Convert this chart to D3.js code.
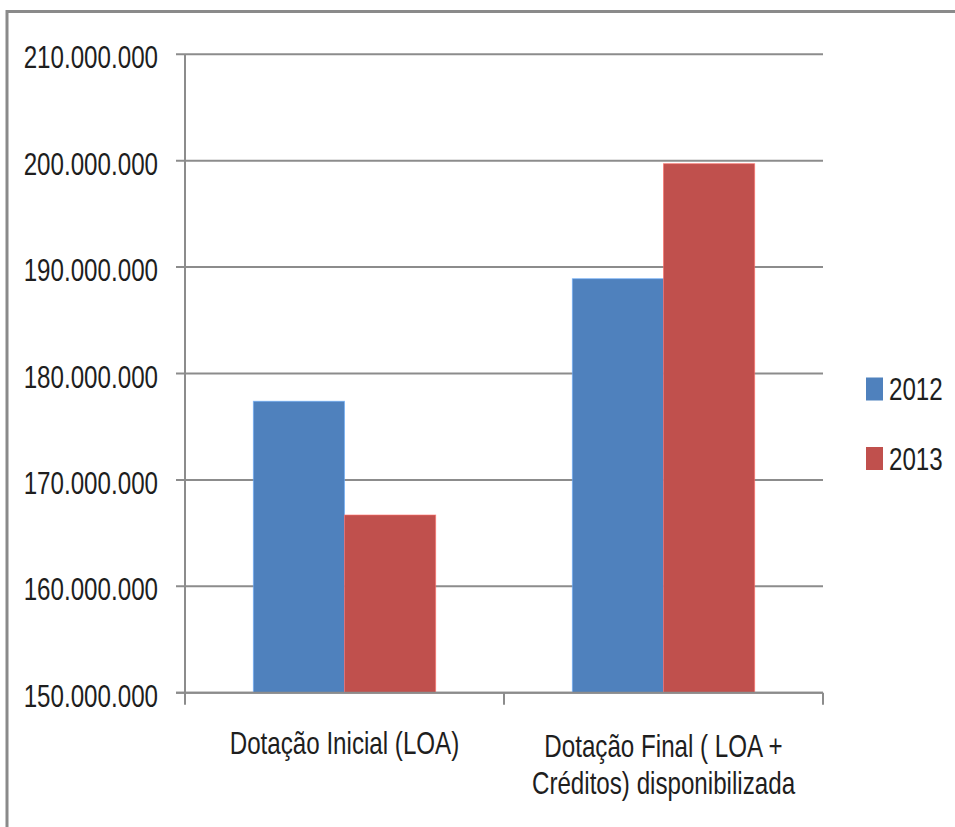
<!DOCTYPE html>
<html>
<head>
<meta charset="utf-8">
<script src="https://cdn.jsdelivr.net/npm/d3@7"></script>
<style>
  html, body { margin: 0; padding: 0; background: #fff; }
  svg { display: block; }
  text { font-family: "Liberation Sans", Arial, sans-serif; fill: #1e1e1e; }
</style>
</head>
<body>
<svg id="chart" width="955" height="827"></svg>
<script>
// ---- data ----
const categories = [["Dotação Inicial (LOA)"], ["Dotação Final ( LOA +", "Créditos) disponibilizada"]];
const categoryKeys = ["Dotação Inicial (LOA)", "Dotação Final ( LOA + Créditos) disponibilizada"];
const seriesNames = ["2012", "2013"];
const values2012 = [177390000, 188910000];
const values2013 = [166700000, 199720000];
const yTicks = [150000000, 160000000, 170000000, 180000000, 190000000, 200000000, 210000000];
const colors = ["#4F81BD", "#C0504D"];

const svg = d3.select("#chart");
const COMPRESS = 0.755;
// place a horizontally condensed text at (x, y)
function condensedText(parent, x, y, txt, anchor) {
  return parent.append("text")
    .attr("transform", `translate(${x},${y}) scale(${COMPRESS},1)`)
    .attr("text-anchor", anchor || "start")
    .attr("font-size", 32)
    .text(txt);
}

// frame (top and left edges visible)
svg.append("line").attr("x1", 7).attr("x2", 955).attr("y1", 11.5).attr("y2", 11.5)
  .attr("stroke", "#8a8a8a").attr("stroke-width", 3);
svg.append("line").attr("x1", 7).attr("x2", 7).attr("y1", 10).attr("y2", 827)
  .attr("stroke", "#8a8a8a").attr("stroke-width", 3);

const plot = { left: 185, right: 823, top: 54.3, bottom: 692.7 };

const y = d3.scaleLinear().domain([150000000, 210000000]).range([plot.bottom, plot.top]);
const x0 = d3.scaleBand().domain(categoryKeys).range([plot.left, plot.right]).paddingInner(0).paddingOuter(0);
const x1 = d3.scaleBand().domain(seriesNames).range([0, x0.bandwidth()]).paddingInner(0).paddingOuter(0.75);

const fmt = v => d3.format(",")(v).replace(/,/g, ".");

// gridlines + y tick labels
const yg = svg.append("g");
yg.selectAll("line.grid").data(yTicks).join("line")
  .attr("class", "grid")
  .attr("x1", plot.left - 9).attr("x2", plot.right)
  .attr("y1", d => y(d)).attr("y2", d => y(d))
  .attr("stroke", "#8c8c8c").attr("stroke-width", 2);
yTicks.forEach(t => condensedText(yg, 158, y(t) + 14, fmt(t), "end"));

// bars
const series = seriesNames.map((s, i) => ({ name: s, values: i === 0 ? values2012 : values2013, color: colors[i] }));
const bars = [];
series.forEach(s => s.values.forEach((v, j) => bars.push({ cat: categoryKeys[j], s: s.name, v, color: s.color })));
svg.append("g").selectAll("rect").data(bars).join("rect")
  .attr("x", d => x0(d.cat) + x1(d.s))
  .attr("width", x1.bandwidth())
  .attr("y", d => y(d.v))
  .attr("height", d => y(150000000) - y(d.v))
  .attr("fill", d => d.color)
  .attr("stroke", d => d3.color(d.color).brighter(0.8))
  .attr("stroke-opacity", 0.6)
  .attr("stroke-width", 1);

// axes lines
svg.append("line").attr("x1", plot.left).attr("x2", plot.left).attr("y1", plot.top).attr("y2", plot.bottom)
  .attr("stroke", "#8c8c8c").attr("stroke-width", 2);
svg.append("line").attr("x1", plot.left - 9).attr("x2", plot.right).attr("y1", plot.bottom).attr("y2", plot.bottom)
  .attr("stroke", "#8c8c8c").attr("stroke-width", 2);
const catTicks = categoryKeys.map(c => x0(c)).concat([plot.right]);
svg.append("g").selectAll("line").data(catTicks).join("line")
  .attr("x1", d => d).attr("x2", d => d)
  .attr("y1", plot.bottom).attr("y2", plot.bottom + 12)
  .attr("stroke", "#8c8c8c").attr("stroke-width", 2);

// x labels
const baseY = [754, 757];
const xg = svg.append("g");
categories.forEach((lines, i) => {
  const cx = x0(categoryKeys[i]) + x0.bandwidth() / 2;
  lines.forEach((ln, k) => condensedText(xg, cx, baseY[i] + k * 37, ln, "middle"));
});

// legend
const lg = svg.append("g");
series.forEach((s, i) => {
  const ly = 377.5 + i * 69.5;
  lg.append("rect").attr("x", 866).attr("y", ly).attr("width", 17).attr("height", 23).attr("fill", s.color);
  condensedText(lg, 889, ly + 22.5, s.name, "start");
});
</script>
</body>
</html>
